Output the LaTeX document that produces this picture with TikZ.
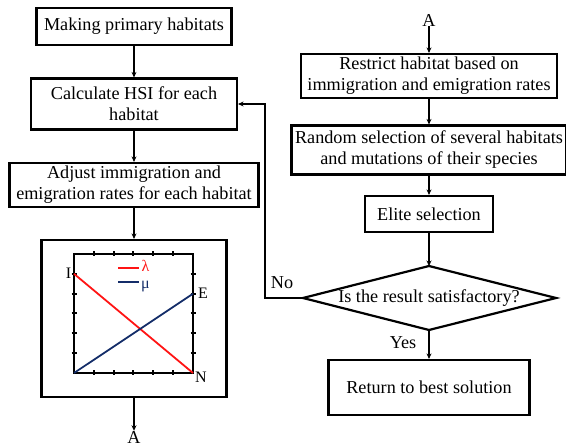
\documentclass[tikz,border=0pt]{standalone}
\usepackage{fontspec}
\setmainfont{Liberation Serif}
\usetikzlibrary{arrows.meta}
\definecolor{lamred}{RGB}{255,20,20}
\definecolor{mublue}{RGB}{20,45,105}
\begin{document}
\begin{tikzpicture}[x=1pt,y=-1pt,
  box/.style={draw,line width=2.2pt,align=center,inner sep=0pt,font=\fontsize{18.2}{21}\selectfont},
  conn/.style={line width=1.6pt,-{Stealth[length=5.5pt,width=5pt]}},
  lbl/.style={font=\fontsize{18.2}{21}\selectfont,inner sep=0pt},
  plbl/.style={font=\fontsize{16}{18}\selectfont,inner sep=0pt},
  tick/.style={line width=2pt}]
\useasboundingbox (0,0) rectangle (566,446);
% left column
\node[box,minimum width=195,minimum height=37] (b1) at (134,26.5) {Making primary habitats};
\node[box,minimum width=206,minimum height=51] (b2) at (134,104) {Calculate HSI for each\\habitat};
\node[box,minimum width=249,minimum height=44] (b3) at (134,185) {Adjust immigration and\\emigration rates for each habitat};
\node[draw,line width=2.2pt,minimum width=185,minimum height=157,inner sep=0pt] (plot) at (134,318.5) {};
\node[lbl] (A1) at (134,437) {A};
% plot inside
\draw[line width=2pt] (74,254) rectangle (193,373);
\foreach \i in {1,...,5}{
  \draw[tick] (74+\i*19.83,251.5) -- (74+\i*19.83,256.5);
  \draw[tick] (74+\i*19.83,370.5) -- (74+\i*19.83,375.5);
  \draw[tick] (71.5,254+\i*19.83) -- (76.5,254+\i*19.83);
  \draw[tick] (190.5,254+\i*19.83) -- (195.5,254+\i*19.83);
}
\coordinate (pI) at (74,273.8);
\coordinate (pN) at (193,373);
\coordinate (pO) at (74,373);
\coordinate (pE) at (193,293.7);
\draw[lamred,line width=1.8pt] (pI) -- (pN);
\draw[mublue,line width=1.8pt] (pO) -- (pE);
\node[plbl] (lI) at (68.5,273) {I};
\node[plbl] (lE) at (203,293) {E};
\node[plbl] (lN) at (201,377) {N};
\coordinate (r1) at (118,268);
\coordinate (r2) at (139,268);
\draw[lamred,line width=1.8pt] (r1) -- (r2);
\node[plbl,text=lamred] (lam) at (145.5,266) {λ};
\coordinate (u1) at (118,282);
\coordinate (u2) at (139,282);
\draw[mublue,line width=1.8pt] (u1) -- (u2);
\node[plbl,text=mublue] (mu) at (145.5,286.5) {μ};
% right column
\node[lbl] (A2) at (429,20) {A};
\node[box,minimum width=256,minimum height=44] (b4) at (429,76) {Restrict habitat based on\\immigration and emigration rates};
\node[box,minimum width=275,minimum height=49] (b5) at (429,150) {Random selection of several habitats\\and mutations of their species};
\node[box,minimum width=128,minimum height=36] (b6) at (429,214) {Elite selection};
\coordinate (dT) at (429,266);
\coordinate (dB) at (429,330);
\coordinate (dL) at (303,298);
\coordinate (dR) at (556,298);
\draw[line width=2.2pt,line join=miter] (dT) -- (dR) -- (dB) -- (dL) -- cycle;
\node[lbl] (dq) at (429,298) {Is the result satisfactory?};
\node[box,minimum width=201,minimum height=55] (b7) at (429,387.5) {Return to best solution};
\node[lbl] (yes) at (403,343) {Yes};
\node[lbl] (no) at (282,283) {No};
\coordinate (fb) at (265,298);
% connectors
\draw[conn] (b1) -- (b2);
\draw[conn] (b2) -- (b3);
\draw[conn] (b3) -- (plot);
\draw[conn] (plot) -- (A1);
\draw[conn] (A2) -- (b4);
\draw[conn] (b4) -- (b5);
\draw[conn] (b5) -- (b6);
\draw[conn] (b6) -- (dT);
\draw[conn] (dB) -- (b7);
\draw[conn] (dL) -- (fb) |- (b2.east);
\end{tikzpicture}
\end{document}
